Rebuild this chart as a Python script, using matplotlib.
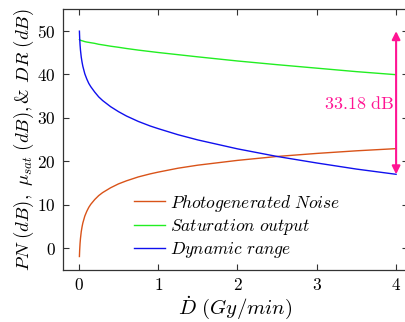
import matplotlib
matplotlib.use("Agg")
import matplotlib.pyplot as plt

plt.rcParams['mathtext.fontset'] = 'cm'
plt.rcParams['font.family'] = ['cmr10', 'DejaVu Serif']
plt.rcParams['axes.unicode_minus'] = False

dose = [0.007, 0.01, 0.015, 0.02, 0.03, 0.04, 0.05, 0.075, 0.1, 0.125, 0.15, 0.2, 0.25,
        0.3, 0.4, 0.5, 0.6, 0.75, 0.9, 1.0, 1.25, 1.5, 2.0, 2.5, 3.0, 3.5, 4.0]
pn = [-1.9, -0.5, 1.1, 2.2, 3.8, 4.9, 5.8, 7.4, 8.5, 9.4, 10.1, 11.2, 12.1,
      12.8, 13.9, 14.8, 15.5, 16.4, 17.1, 17.5, 18.4, 19.1, 20.2, 21.1, 21.8, 22.4, 22.9]
sat = [48.0, 47.9, 47.85, 47.8, 47.75, 47.7, 47.65, 47.5, 47.4, 47.33, 47.25, 47.1, 46.89,
       46.75, 46.45, 46.2, 45.92, 45.55, 45.22, 45.0, 44.5, 44.0, 43.05, 42.2, 41.4, 40.6, 39.9]
dr = [49.9, 48.4, 46.75, 45.6, 43.95, 42.8, 41.85, 40.1, 38.9, 37.9, 37.15, 35.9, 34.8,
      33.95, 32.55, 31.4, 30.4, 29.15, 28.1, 27.5, 26.1, 24.9, 22.85, 21.1, 19.6, 18.2, 17.0]
labels = [r'$Photogenerated\ Noise$', r'$Saturation\ output$', r'$Dynamic\ range$']
xticks = [0, 1, 2, 3, 4]
yticks = [0, 10, 20, 30, 40, 50]
dr_span = (17.0, 49.9)
dr_text = r'$33.18\ \mathrm{dB}$'

fig = plt.figure(figsize=(4.06, 3.22), dpi=100)
ax = fig.add_axes([63/406, 52/322, 345/406, 261/322])

ax.plot(dose, pn, color='#D95319', lw=1.0, label=labels[0])
ax.plot(dose, sat, color='#22EE22', lw=1.0, label=labels[1])
ax.plot(dose, dr, color='#1010EE', lw=1.0, label=labels[2])

ax.annotate('', xy=(4, dr_span[0]), xytext=(4, dr_span[1]),
            arrowprops=dict(arrowstyle='<|-|>', color='#FF1493', lw=1.5,
                            mutation_scale=12, shrinkA=0, shrinkB=0))
ax.text(3.53, 33.2, dr_text, color='#FF1493', fontsize=13, ha='center', va='center')

ax.set_xlim(-0.2, 4.15)
ax.set_ylim(-5, 55)
ax.set_xticks(xticks)
ax.set_yticks(yticks)
ax.set_xticklabels([f'${t}$' for t in xticks], fontsize=12.5)
ax.set_yticklabels([f'${t}$' for t in yticks], fontsize=12.5)
ax.tick_params(direction='in', length=4, width=0.8, top=True, right=True, color='#333333',
               pad=5)
for s in ax.spines.values():
    s.set_color('#333333')
    s.set_linewidth(0.9)

ax.set_xlabel(r'$\dot{D}\ (Gy/min)$', fontsize=15, labelpad=1)
ax.set_ylabel(r'$PN\ (dB),\ \mu_{sat}\ (dB),$& $DR\ (dB)$', fontsize=13.5, labelpad=1)

ax.legend(loc='lower center', bbox_to_anchor=(0.505, -0.01), frameon=False, fontsize=12.5,
          handlelength=1.75, handletextpad=0.3, labelspacing=0.2, borderpad=0.2)

fig.savefig('out.png', dpi=100)
